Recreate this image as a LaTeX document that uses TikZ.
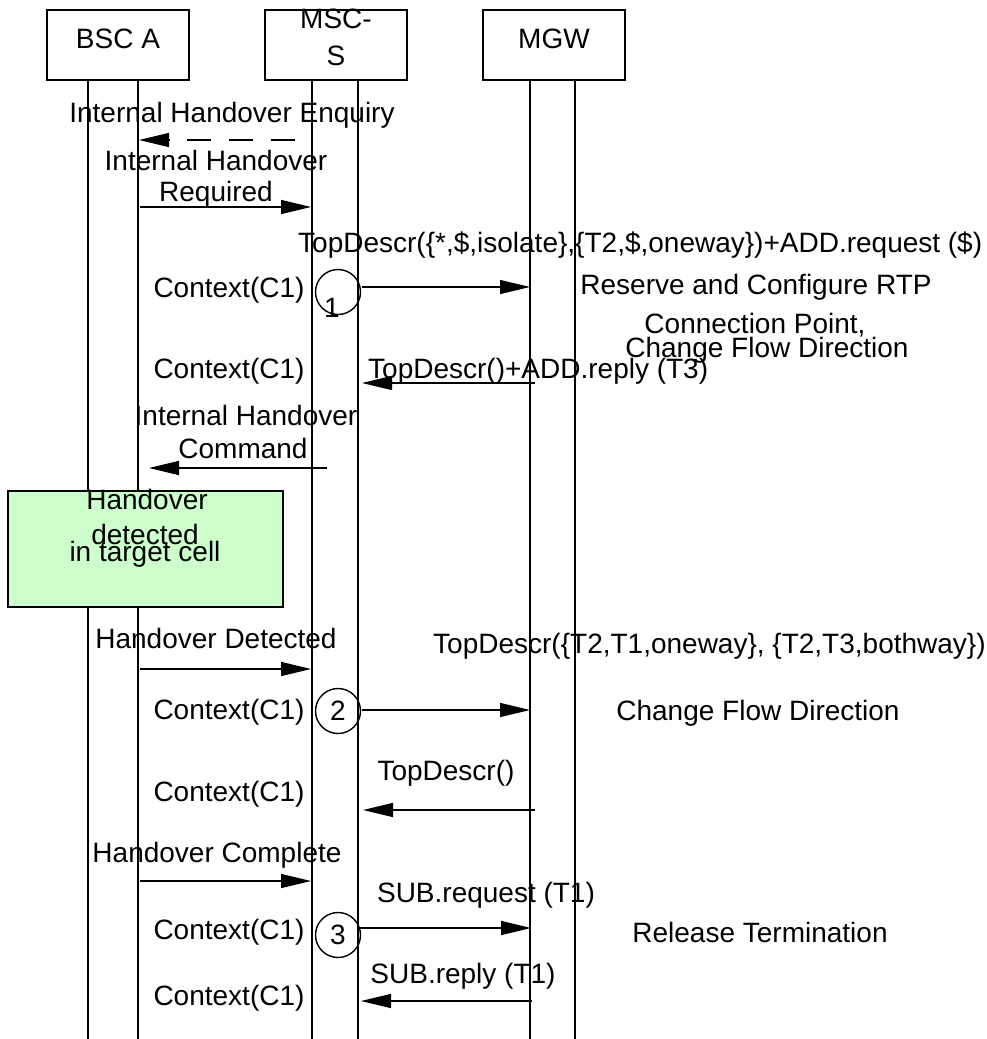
\documentclass[tikz,border=0pt]{standalone}
\usepackage{fontspec}
\setmainfont{Liberation Sans}
\usetikzlibrary{arrows.meta}
\definecolor{hogreen}{HTML}{CCFFCC}
\begin{document}
\begin{tikzpicture}[x=1pt,y=-1pt,
  txt/.style={font=\fontsize{28}{30}\selectfont, inner sep=0pt, anchor=base},
  txtw/.style={txt, anchor=base west},
  hdr/.style={draw, line width=1.6pt, minimum width=142pt, minimum height=70pt, inner sep=0pt},
  life/.style={line width=1.4pt},
  msg/.style={line width=1.4pt, -{Triangle[length=30pt,width=14pt]}},
  dmsg/.style={msg, dash pattern=on 24pt off 18pt},
  ctxcirc/.style={draw, circle, line width=1.4pt, minimum size=45pt, inner sep=0pt, font=\fontsize{28}{30}\selectfont},
  evbox/.style={draw, line width=1.6pt, fill=hogreen, minimum width=275pt, minimum height=116pt, inner sep=0pt}]
\useasboundingbox (0,0) rectangle (987,1039);

% header boxes
\node[hdr] (bsc) at (118,45) {};
\node[hdr] (msc) at (336,45) {};
\node[hdr] (mgw) at (554,45) {};
\node[txt] (bscT) at (118,48) {BSC A};
\node[txt] (mscT1) at (336,28) {MSC-};
\node[txt] (mscT2) at (336,65) {S};
\node[txt] (mgwT) at (554,48) {MGW};

% lifelines
\foreach \n/\x in {a/88,b/138,c/312,d/358,e/530,f/575}{
  \coordinate (\n top) at (\x,80);
  \coordinate (\n bot) at (\x,1039);
  \draw[life] (\n top) -- (\n bot);
}

% event box
\node[evbox] (ev) at (145.5,549) {};
\node[txt] (ev1) at (147,509) {Handover};
\node[txt] (ev2) at (145,544) {detected};
\node[txt] (ev3) at (145,561) {in target cell};

% message endpoints
\coordinate (enqS) at (295,140); \coordinate (enqE) at (139,140);
\coordinate (reqS) at (140,207); \coordinate (reqE) at (311,207);
\coordinate (m1S) at (362,287);  \coordinate (m1E) at (530,287);
\coordinate (r1S) at (535,383);  \coordinate (r1E) at (362,383);
\coordinate (cmdS) at (327,468); \coordinate (cmdE) at (149,468);
\coordinate (detS) at (140,669); \coordinate (detE) at (311,669);
\coordinate (m2S) at (362,710);  \coordinate (m2E) at (530,710);
\coordinate (r2S) at (535,810);  \coordinate (r2E) at (363,810);
\coordinate (cmpS) at (140,881); \coordinate (cmpE) at (311,881);
\coordinate (m3S) at (360,928);  \coordinate (m3E) at (531,928);
\coordinate (r3S) at (532,1001); \coordinate (r3E) at (361,1001);

\draw[dmsg] (enqS) -- (enqE);
\draw[msg] (reqS) -- (reqE);
\draw[msg] (m1S) -- (m1E);
\draw[msg] (r1S) -- (r1E);
\draw[msg] (cmdS) -- (cmdE);
\draw[msg] (detS) -- (detE);
\draw[msg] (m2S) -- (m2E);
\draw[msg] (r2S) -- (r2E);
\draw[msg] (cmpS) -- (cmpE);
\draw[msg] (m3S) -- (m3E);
\draw[msg] (r3S) -- (r3E);

% circles
\node[ctxcirc] (c1) at (338,292) {};
\node[txt] (c1T) at (332,317) {1};
\node[ctxcirc] (c2) at (338,711) {2};
\node[ctxcirc] (c3) at (338,935) {3};

% labels
\node[txt] (enq) at (232,122) {Internal Handover Enquiry};
\node[txt] (req1) at (216,170) {Internal Handover};
\node[txt] (req2) at (216,201) {Required};
\node[txtw] (top1) at (298,252) {TopDescr(\{*,\$,isolate\},\{T2,\$,oneway\})+ADD.request (\$)};
\node[txt] (ctx1) at (229,297) {Context(C1)};
\node[txt] (rsv1) at (756,294) {Reserve and Configure RTP};
\node[txt] (rsv2) at (755,333) {Connection Point,};
\node[txt] (rsv3) at (767,357) {Change Flow Direction};
\node[txtw] (rep1) at (368,378) {TopDescr()+ADD.reply (T3)};
\node[txt] (ctx2) at (229,378) {Context(C1)};
\node[txt] (cmd1) at (246,425) {Internal Handover};
\node[txt] (cmd2) at (243,458) {Command};
\node[txt] (det) at (216,648) {Handover Detected};
\node[txtw] (top2) at (433,653) {TopDescr(\{T2,T1,oneway\}, \{T2,T3,bothway\})};
\node[txt] (ctx3) at (229,719) {Context(C1)};
\node[txt] (cfd) at (758,720) {Change Flow Direction};
\node[txt] (rep2) at (446,780) {TopDescr()};
\node[txt] (ctx4) at (229,801) {Context(C1)};
\node[txt] (cmp) at (217,862) {Handover Complete};
\node[txt] (sub1) at (486,902) {SUB.request (T1)};
\node[txt] (ctx5) at (229,939) {Context(C1)};
\node[txt] (rel) at (760,942) {Release Termination};
\node[txt] (sub2) at (463,983) {SUB.reply (T1)};
\node[txt] (ctx6) at (229,1005) {Context(C1)};
\end{tikzpicture}
\end{document}
